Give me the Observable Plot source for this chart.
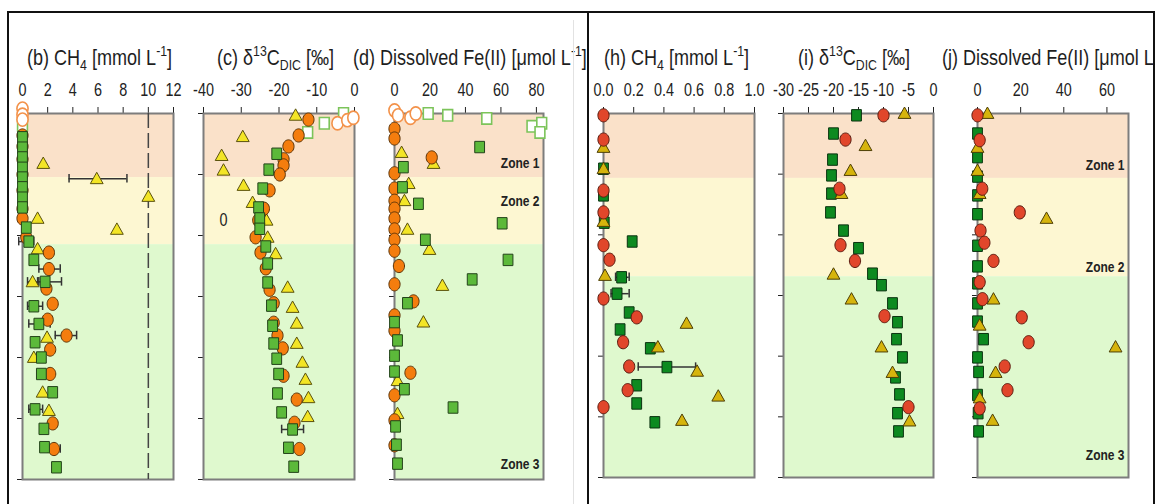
<!DOCTYPE html>
<html>
<head>
<meta charset="utf-8">
<script src="https://cdn.jsdelivr.net/npm/d3@7"></script>
<script src="https://cdn.jsdelivr.net/npm/@observablehq/plot@0.6"></script>
<style>
  html, body { margin: 0; padding: 0; background: #fff; }
  #page { position: relative; width: 1157px; height: 504px; overflow: hidden; background: #fff; }
  .clip { position: absolute; top: 0; height: 504px; overflow: hidden; }
  .inner { position: absolute; top: 0; width: 1157px; height: 504px; }
  .title { position: absolute; top: 47px; white-space: nowrap; font-size: 22px; line-height: 22px; color: #1e1e1e;
           transform: scaleX(0.82); transform-origin: 0 0; }
  .title sub, .title sup { font-size: 15px; line-height: 0; }
  .title sub { vertical-align: -5px; }
  .title sup { vertical-align: 9px; }
  .line { position: absolute; background: #111; }
</style>
</head>
<body>
<div id="page"></div>
<script>
const FONT = "'Liberation Sans', Arial, sans-serif";
const NARROW = 0.8; // horizontal squeeze giving the narrow typeface look

// ---------- data: [value, depth in cm] ----------
// Zone boundaries (cm)
const zoneBoundsLeft = [0, 10.5, 21.5, 60];
const zoneBoundsRight = [0, 10.7, 26.9, 60];
const zoneNames = ["Zone 1", "Zone 2", "Zone 3"];
const zoneLabelDepthLeft = [8.2, 14.3, 57.5];
const zoneLabelDepthRight = [8.6, 25.4, 56.4];

// (b) CH4 [mmol/L]
const bTicks = [0, 2, 4, 6, 8, 10, 12];
const bThreshold = [10];
const bOpenCircles = [[0, -0.8], [0, 0.2], [0, 1.0]];
const bOpenSquares = [[0, 1.9]];
const bCircles = [[0, 3.6], [0, 5.4], [0, 7.5], [0, 10], [0, 12.6], [0, 15.6], [0, 17.2], [0.3, 20.3],
  [2.1, 22.8], [2.1, 25.5], [1.9, 28.7], [2.4, 31.2], [2.0, 33.8], [3.5, 36.4], [2.2, 38.7], [2.2, 42.7],
  [2.4, 50.8], [2.5, 55]];
const bSquares = [[0, 3.9], [0, 5.6], [0, 7.2], [0, 8.9], [0, 10.5], [0, 12.1], [0, 13.8], [0, 15.4],
  [0.3, 18.7], [0.5, 21], [0.9, 24], [1.8, 27.6], [0.9, 31.6], [1.3, 34.5], [1.0, 37.5], [1.5, 40],
  [1.5, 42.7], [2.4, 45.7], [1.0, 48.5], [1.7, 51.7], [1.75, 54.7], [2.7, 58]];
const bTriangles = [[1.65, 8.2], [5.9, 10.7], [10.0, 13.6], [1.2, 17.2], [7.5, 19], [1.2, 22.2],
  [0.8, 27.6], [1.95, 36.7], [0.9, 40], [1.6, 45.7], [2.1, 48.7]];
// [value, depth, low, high]
const bErrors = [[5.9, 10.7, 3.7, 8.3], [0.5, 21, -0.3, 0.9], [2.1, 25.5, 1.3, 3.0], [0.8, 27.6, 0.4, 1.3],
  [1.8, 27.6, 1.2, 3.1], [0.9, 31.6, 0.4, 1.6], [1.3, 34.5, 0.5, 2.2], [3.5, 36.4, 2.6, 4.3],
  [1.0, 48.5, 0.5, 1.6], [2.5, 55, 2.0, 3.0]];

// (c) d13C-DIC [permil]
const cTicks = [-40, -30, -20, -10, 0];
const cOpenCircles = [[-4.5, 1.6], [-1.9, 1.1], [-0.3, 0.7]];
const cOpenSquares = [[-2.9, 0], [-8, 1.6], [-12.4, 3.1]];
const cCircles = [[-12.2, 1.0], [-14.8, 3.6], [-17.5, 5.4], [-18.8, 7.5], [-18.8, 8.5], [-19.8, 10],
  [-22.5, 12.6], [-24, 15.6], [-25.5, 17.5], [-26.2, 20.3], [-24.9, 22.8], [-23.5, 25.4], [-22.5, 28.9],
  [-21.4, 31.1], [-21.4, 34.3], [-20.4, 36.4], [-19.0, 38.5], [-18.8, 43], [-15.3, 46.9], [-15.9, 50.7],
  [-14.6, 55]];
const cSquares = [[-20.6, 6.6], [-22.7, 9.2], [-24.3, 12.3], [-25.4, 15.4], [-25.1, 17.2], [-25.1, 18.9],
  [-23.5, 21.8], [-23, 24.6], [-23, 27.7], [-22, 31.5], [-21.7, 34.8], [-21.4, 37.7], [-20.6, 40.2],
  [-20.1, 42.7], [-20.4, 45.9], [-19.3, 49], [-16.4, 51.8], [-17.5, 54.8], [-16.1, 57.9]];
const cTriangles = [[-15.6, 0.3], [-29.6, 3.8], [-35.2, 6.9], [-34.7, 9.3], [-29.4, 11.8], [-27, 14.6],
  [-23.3, 17.5], [-23, 20.3], [-20.9, 23], [-17.7, 28.5], [-16.4, 31.8], [-15.3, 34.4], [-15.3, 37.7],
  [-13.8, 40.8], [-13, 43.6], [-12.2, 46.6], [-12.4, 49.7]];
const cErrors = [[-16.4, 51.8, -19.3, -13.5]];
const cNotes = [[-34.7, 17.5, "0"]];

// (d) Dissolved Fe(II) [umol/L]
const dTicks = [0, 20, 40, 60, 80];
const dOpenCircles = [[0, -0.5], [2, 0.3], [9, 0.7], [12, 0]];
const dOpenSquares = [[19, 0], [30, 0.3], [52, 0.8], [77.5, 2.1], [83, 1.6], [82, 3.1]];
const dCircles = [[0, 2.5], [0, 4.1], [21, 7.2], [0, 9.8], [0, 12.3], [0, 14.3], [0, 15.6], [0, 17.2],
  [0, 19], [0, 20.7], [0, 22.5], [2.5, 25], [0, 28], [10.7, 30.8], [0, 33.1], [0, 35.6], [9, 42.5],
  [0, 46.2], [0, 50.3], [0, 54.4]];
const dSquares = [[48, 5.5], [5, 8.8], [4.5, 12.1], [13.5, 14.8], [60.7, 18], [17.4, 20.7], [64, 24],
  [43.8, 27.2], [7.3, 31.1], [0, 34.2], [1.7, 37.2], [0, 39.7], [0, 42.3], [5.6, 45.2], [33, 48.2],
  [0.6, 51.3], [1.1, 54.3], [1.7, 57.4]];
const dTriangles = [[4, 6.4], [22, 8.2], [8, 11.5], [5.6, 14.3], [7.3, 19], [19.7, 22.3], [27, 28.2],
  [16.3, 34.2], [1.7, 43.8], [1.7, 49.2]];

// (h) CH4 [mmol/L]
const hTicks = [0, 0.2, 0.4, 0.6, 0.8, 1.0];
const hCircles = [[0, 0.3], [0, 4.3], [0, 12.7], [0, 16.3], [0, 21.7], [0.04, 24.1], [0, 30.5],
  [0.22, 33.6], [0.13, 37.7], [0.17, 41.7], [0.16, 45.6], [0, 48.4]];
const hSquares = [[0, 9.1], [0, 13.5], [0.005, 18], [0.19, 21.1], [0.12, 27], [0.09, 29.7], [0.17, 32.8],
  [0.11, 35.6], [0.31, 38.7], [0.42, 41.8], [0.22, 44.8], [0.22, 47.8], [0.34, 50.9]];
const hTriangles = [[0, 5.6], [0, 9.1], [0, 17.8], [0.01, 26.7], [0.55, 34.6], [0.36, 38.5], [0.62, 42.5],
  [0.76, 46.6], [0.52, 50.6]];
const hErrors = [[0.12, 27, 0.08, 0.17], [0.09, 29.7, 0.05, 0.17], [0.42, 41.8, 0.23, 0.61]];

// (i) d13C-DIC [permil]
const iTicks = [-30, -25, -20, -15, -10, -5, 0];
const iCircles = [[-10, 0.3], [-17.6, 4.3], [-18.8, 12.4], [-18.6, 21.7], [-15.7, 24.3], [-9.8, 33.4],
  [-5, 48.4]];
const iSquares = [[-15.4, 0.3], [-20, 3.3], [-20.2, 7.6], [-20.4, 10.2], [-20.4, 13.2], [-20.6, 16.3],
  [-18, 19.3], [-15, 22.2], [-12.2, 26.4], [-10.4, 28.3], [-8.2, 31.3], [-7.2, 34.4], [-7.4, 37.2],
  [-6.2, 40.2], [-7.6, 43.5], [-6.8, 46.3], [-7.2, 49.4], [-7, 52.4]];
const iTriangles = [[-5.8, 0], [-13.6, 5.3], [-16.6, 9.4], [-18.4, 13.2], [-20, 26.5], [-16.4, 30.6],
  [-10.4, 38.5], [-8.2, 42.7], [-4.8, 50.7]];

// (j) Dissolved Fe(II) [umol/L]
const jTicks = [0, 20, 40, 60];
const jCircles = [[0, 0.3], [1, 4.4], [2.2, 12.4], [19.6, 16.3], [1.4, 19.3], [3.2, 21.3], [7.4, 24.3],
  [1, 27.8], [2.3, 30.6], [20.5, 33.6], [23.7, 37.7], [12.6, 41.7], [13.9, 45.6], [1, 48.6]];
const jSquares = [[0, 3.3], [0, 7.2], [0, 10.4], [0, 13.5], [0, 16.6], [0, 21.8], [0, 25.2], [0, 28],
  [0, 31.3], [0, 34.3], [2.8, 37.2], [0, 40.2], [0.5, 42.6], [0, 46.4], [0.3, 49.4], [0.5, 52.4]];
const jTriangles = [[4.6, 0], [0, 5.6], [0, 9.4], [1, 13.2], [32, 17.3], [7.4, 30.6], [1, 34.9],
  [64, 38.5], [8.4, 42.7], [1, 46.9], [7, 50.6]];

// ---------- styling ----------
const depthTicks = [0, 10, 20, 30, 40, 50, 60];
const zoneFills = ["#fae1c9", "#fdf7d2", "#dff9ce"];
const LEFT = {
  circle: {fill: "#f47d0e", stroke: "#5c3408"},
  square: {fill: "#5cb93a", stroke: "#23431a"},
  triangle: {fill: "#f3e526", stroke: "#5a520e"},
  openCircle: {fill: "#fff", stroke: "#f3924a", sw: 1.6},
  openSquare: {fill: "#fff", stroke: "#7cc45a", sw: 1.6}
};
const RIGHT = {
  circle: {fill: "#e1462b", stroke: "#5a1c10"},
  square: {fill: "#0d8a20", stroke: "#0b3310"},
  triangle: {fill: "#d6b40c", stroke: "#4d3f07"}
};

// marker shapes (slightly tall, like the printed symbols)
const K = 0.5523;
const ellipse = {draw(c) {
  const rx = 5.6, ry = 6.6;
  c.moveTo(rx, 0);
  c.bezierCurveTo(rx, ry * K, rx * K, ry, 0, ry);
  c.bezierCurveTo(-rx * K, ry, -rx, ry * K, -rx, 0);
  c.bezierCurveTo(-rx, -ry * K, -rx * K, -ry, 0, -ry);
  c.bezierCurveTo(rx * K, -ry, rx, -ry * K, rx, 0);
  c.closePath();
}};
const block = {draw(c) { c.rect(-4.9, -5.7, 9.8, 11.4); }};
const tri = {draw(c) { c.moveTo(0, -6.5); c.lineTo(6.4, 4.9); c.lineTo(-6.4, 4.9); c.closePath(); }};

function dots(data, symbol, s) {
  return Plot.dot(data, {x: d => d[0], y: d => d[1], symbol, r: 5, fill: s.fill, stroke: s.stroke, strokeWidth: s.sw ?? 1});
}
function errorBars(data) {
  const st = {stroke: "#333", strokeWidth: 1.5};
  return [
    Plot.ruleY(data, {x1: d => d[2], x2: d => d[3], y: d => d[1], ...st}),
    Plot.ruleX(data, {x: d => d[2], y1: d => d[1] - 0.7, y2: d => d[1] + 0.7, ...st}),
    Plot.ruleX(data, {x: d => d[3], y1: d => d[1] - 0.7, y2: d => d[1] + 0.7, ...st})
  ];
}
function zoneLabels(domain, depths) {
  return Plot.text(zoneNames.map((t, i) => [t, depths[i]]), {
    x: domain[1], y: d => d[1], text: d => d[0], textAnchor: "end", dx: -4,
    fontWeight: "bold", fontSize: 15, fill: "#222"
  });
}

function panel({x0, x1, top, bottom, domain, ticks, fmt, bounds, marks}) {
  const mL = 26, mR = 26, svgTop = 64, mB = 24;
  const mT = top - svgTop;
  const zones = zoneFills.map((fill, i) =>
    Plot.rect([0], {x1: domain[0], x2: domain[1], y1: bounds[i], y2: bounds[i + 1], fill}));
  const svg = Plot.plot({
    width: x1 - x0 + mL + mR,
    height: mT + bottom - top + mB,
    marginLeft: mL, marginRight: mR, marginTop: mT, marginBottom: mB,
    x: {domain, axis: "top", ticks, tickFormat: fmt, tickSize: 7, tickPadding: 11, label: null},
    y: {domain: [0, 60], reverse: true, ticks: depthTicks, tickFormat: () => "", tickSize: 5, label: null},
    style: {fontFamily: FONT, fontSize: "18px", color: "#222", background: "transparent", overflow: "visible"},
    marks: [...zones, Plot.frame({stroke: "#7d7d7d", strokeWidth: 2}), ...marks]
  });
  // squeeze every label horizontally about its own anchor point
  svg.querySelectorAll("text").forEach(t => {
    const tr = t.getAttribute("transform") || "";
    t.setAttribute("transform", `${tr} scale(${NARROW},1)`);
  });
  Object.assign(svg.style, {position: "absolute", left: (x0 - mL) + "px", top: svgTop + "px", maxWidth: "none"});
  return svg;
}

// ---------- page layout ----------
const page = document.getElementById("page");
page.style.fontFamily = FONT;

function clipBox(left, width) {
  const clip = document.createElement("div");
  clip.className = "clip";
  clip.style.left = left + "px";
  clip.style.width = width + "px";
  const inner = document.createElement("div");
  inner.className = "inner";
  inner.style.left = (-left) + "px";
  clip.appendChild(inner);
  page.appendChild(clip);
  return inner;
}
function title(host, left, html) {
  const t = document.createElement("div");
  t.className = "title";
  t.style.left = left + "px";
  t.innerHTML = html;
  host.appendChild(t);
}

const leftBox = clipBox(9, 578);
const rightBox = clipBox(589, 564);

const num = d => String(d);

// (b)
leftBox.appendChild(panel({
  x0: 22, x1: 173, top: 113, bottom: 479, domain: [0, 12], ticks: bTicks, fmt: num, bounds: zoneBoundsLeft,
  marks: [
    Plot.ruleX(bThreshold, {stroke: "#444", strokeWidth: 1.5, strokeDasharray: "15,5"}),
    ...errorBars(bErrors),
    dots(bOpenSquares, block, LEFT.openSquare),
    dots(bOpenCircles, ellipse, LEFT.openCircle),
    dots(bTriangles, tri, LEFT.triangle),
    dots(bCircles, ellipse, LEFT.circle),
    dots(bSquares, block, LEFT.square)
  ]
}));
title(leftBox, 27, "(b) CH<sub>4</sub> [mmol L<sup>-1</sup>]");

// (c)
leftBox.appendChild(panel({
  x0: 203, x1: 354, top: 113, bottom: 479, domain: [-40, 0], ticks: cTicks, fmt: num, bounds: zoneBoundsLeft,
  marks: [
    ...errorBars(cErrors),
    Plot.text(cNotes, {x: d => d[0], y: d => d[1], text: d => d[2], fontSize: 18, fill: "#222"}),
    dots(cOpenSquares, block, LEFT.openSquare),
    dots(cOpenCircles, ellipse, LEFT.openCircle),
    dots(cTriangles, tri, LEFT.triangle),
    dots(cCircles, ellipse, LEFT.circle),
    dots(cSquares, block, LEFT.square)
  ]
}));
title(leftBox, 217, "(c) &delta;<sup>13</sup>C<sub>DIC</sub> [&permil;]");

// (d)
leftBox.appendChild(panel({
  x0: 394, x1: 543, top: 113, bottom: 479, domain: [0, 84], ticks: dTicks, fmt: num, bounds: zoneBoundsLeft,
  marks: [
    zoneLabels([0, 84], zoneLabelDepthLeft),
    dots(dOpenSquares, block, LEFT.openSquare),
    dots(dOpenCircles, ellipse, LEFT.openCircle),
    dots(dTriangles, tri, LEFT.triangle),
    dots(dCircles, ellipse, LEFT.circle),
    dots(dSquares, block, LEFT.square)
  ]
}));
title(leftBox, 353, "(d) Dissolved Fe(II) [&mu;mol L<sup>-1</sup>]");

// (h)
rightBox.appendChild(panel({
  x0: 603, x1: 754, top: 113, bottom: 477, domain: [0, 1], ticks: hTicks, fmt: d => d.toFixed(1), bounds: zoneBoundsRight,
  marks: [
    ...errorBars(hErrors),
    dots(hSquares, block, RIGHT.square),
    dots(hTriangles, tri, RIGHT.triangle),
    dots(hCircles, ellipse, RIGHT.circle)
  ]
}));
title(rightBox, 604, "(h) CH<sub>4</sub> [mmol L<sup>-1</sup>]");

// (i)
rightBox.appendChild(panel({
  x0: 783, x1: 933, top: 113, bottom: 477, domain: [-30, 0], ticks: iTicks, fmt: num, bounds: zoneBoundsRight,
  marks: [
    dots(iSquares, block, RIGHT.square),
    dots(iTriangles, tri, RIGHT.triangle),
    dots(iCircles, ellipse, RIGHT.circle)
  ]
}));
title(rightBox, 798, "(i) &delta;<sup>13</sup>C<sub>DIC</sub> [&permil;]");

// (j)
rightBox.appendChild(panel({
  x0: 977, x1: 1128, top: 113, bottom: 477, domain: [0, 70], ticks: jTicks, fmt: num, bounds: zoneBoundsRight,
  marks: [
    zoneLabels([0, 70], zoneLabelDepthRight),
    dots(jSquares, block, RIGHT.square),
    dots(jTriangles, tri, RIGHT.triangle),
    dots(jCircles, ellipse, RIGHT.circle)
  ]
}));
title(rightBox, 942, "(j) Dissolved Fe(II) [&mu;mol L<sup>-1</sup>]");

// outer frame lines
function line(left, top, width, height, color) {
  const l = document.createElement("div");
  l.className = "line";
  Object.assign(l.style, {left: left + "px", top: top + "px", width: width + "px", height: height + "px"});
  if (color) l.style.background = color;
  page.appendChild(l);
}
line(573, 20, 1, 484, "#e2e2e2");
line(7, 11, 1148, 2);
line(7, 11, 2, 493);
line(587, 11, 2, 493);
line(1153, 11, 2, 493);
</script>
</body>
</html>
